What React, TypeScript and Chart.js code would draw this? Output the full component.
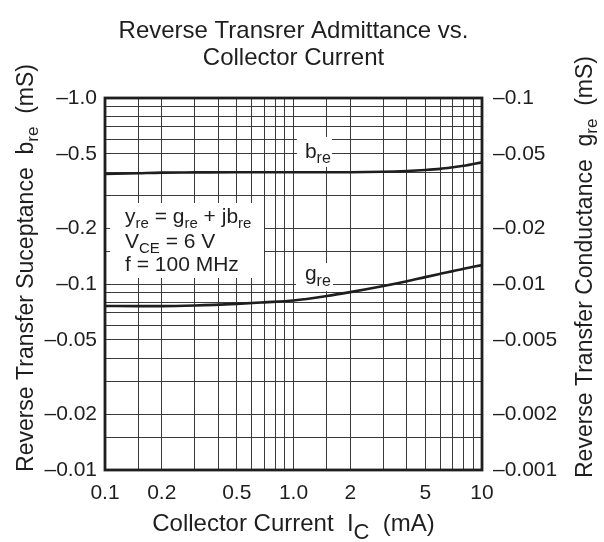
import React, { useEffect, useRef } from "react";
import { Chart, registerables } from "chart.js";

Chart.register(...registerables);

// ---------- data ----------
const current = [0.1, 0.15, 0.2, 0.3, 0.5, 0.7, 1.0, 1.5, 2.0, 3.0, 4.0, 5.0, 6.0, 7.0, 8.0, 10.0]; // mA
const breMag = [0.39, 0.394, 0.397, 0.398, 0.399, 0.399, 0.399, 0.399, 0.399, 0.401, 0.405, 0.41, 0.416, 0.424, 0.432, 0.451]; // |b_re| mS
const greMag = [0.00762, 0.0076, 0.0076, 0.00766, 0.00782, 0.00797, 0.00815, 0.00861, 0.00904, 0.00975, 0.01035, 0.01089, 0.01134, 0.01173, 0.01208, 0.01263]; // |g_re| mS

const gridSteps = [1, 1.5, 2, 3, 4, 5, 6, 7, 8, 9];
const xDecades = [0.1, 1];
const yDecades = [0.01, 0.1];
const y2Decades = [0.001, 0.01];

const xMajor = [0.1, 0.2, 0.5, 1, 2, 5, 10];
const xMajorLabels = ["0.1", "0.2", "0.5", "1.0", "2", "5", "10"];
const yMajor = [0.01, 0.02, 0.05, 0.1, 0.2, 0.5, 1];
const yMajorLabels = ["\u20130.01", "\u20130.02", "\u20130.05", "\u20130.1", "\u20130.2", "\u20130.5", "\u20131.0"];
const y2Major = [0.001, 0.002, 0.005, 0.01, 0.02, 0.05, 0.1];
const y2MajorLabels = ["\u20130.001", "\u20130.002", "\u20130.005", "\u20130.01", "\u20130.02", "\u20130.05", "\u20130.1"];

const titleLines = ["Reverse Transrer Admittance vs.", "Collector Current"];

const FONT = "'Liberation Sans', Arial, Helvetica, sans-serif";
const INK = "#1e1e1e";

type Part = [string, boolean];

function buildGrid(decades: number[]): number[] {
  const out: number[] = [];
  decades.forEach((d) => gridSteps.forEach((s) => out.push(+(d * s).toPrecision(6))));
  out.push(+(decades[decades.length - 1] * 10).toPrecision(6));
  return out;
}

function lookup(v: number, keys: number[], labels: string[]): string {
  for (let i = 0; i < keys.length; i++) {
    if (Math.abs(v - keys[i]) / keys[i] < 1e-6) return labels[i];
  }
  return "";
}

function drawRich(
  ctx: CanvasRenderingContext2D,
  parts: Part[],
  x: number,
  y: number,
  size: number,
  align: "left" | "center",
  subScale = 0.72,
  subOffset = 5
) {
  const main = `${size}px ${FONT}`;
  const sub = `${Math.round(size * subScale)}px ${FONT}`;
  let total = 0;
  const widths = parts.map(([t, s]) => {
    ctx.font = s ? sub : main;
    const w = ctx.measureText(t).width;
    total += w;
    return w;
  });
  let cx = align === "center" ? x - total / 2 : x;
  ctx.textAlign = "left";
  ctx.textBaseline = "alphabetic";
  parts.forEach(([t, s], i) => {
    ctx.font = s ? sub : main;
    ctx.fillText(t, cx, s ? y + subOffset : y);
    cx += widths[i];
  });
}

const decorPlugin = {
  id: "decor",
  beforeDraw(chart: any) {
    const ctx = chart.ctx;
    ctx.save();
    ctx.fillStyle = "#ffffff";
    ctx.fillRect(0, 0, chart.width, chart.height);
    ctx.restore();
  },
  beforeDatasetsDraw(chart: any) {
    const ctx: CanvasRenderingContext2D = chart.ctx;
    const a = chart.chartArea;
    const sx = chart.scales.x;
    const sy = chart.scales.y;
    const sy2 = chart.scales.y2;
    ctx.save();
    ctx.fillStyle = "#ffffff";
    // condition box
    ctx.fillRect(a.left + 5, a.top + 105, 154, 75);
    // curve labels
    const bx = sx.getPixelForValue(1.15);
    const bY = sy.getPixelForValue(0.476);
    const gY = sy2.getPixelForValue(0.0105);
    ctx.fillRect(bx - 8, bY - 21, 35, 30);
    ctx.fillRect(bx - 9, gY - 17, 37, 28);
    ctx.fillStyle = INK;
    drawRich(ctx, [["b", false], ["re", true]], bx, bY, 21, "left", 0.75, 5);
    drawRich(ctx, [["g", false], ["re", true]], bx, gY, 21, "left", 0.75, 6);
    const tx = a.left + 20;
    drawRich(ctx, [["y", false], ["re", true], [" = g", false], ["re", true], [" + jb", false], ["re", true]], tx, a.top + 125, 21, "left", 0.72, 5);
    drawRich(ctx, [["V", false], ["CE", true], [" = 6 V", false]], tx, a.top + 150, 21, "left", 0.72, 5);
    drawRich(ctx, [["f = 100 MHz", false]], tx, a.top + 173, 21, "left");
    ctx.restore();
  },
  afterDatasetsDraw(chart: any) {
    const ctx: CanvasRenderingContext2D = chart.ctx;
    const a = chart.chartArea;
    ctx.save();
    ctx.strokeStyle = INK;
    ctx.lineWidth = 2.8;
    ctx.strokeRect(a.left, a.top, a.right - a.left, a.bottom - a.top);
    ctx.fillStyle = INK;
    // title
    ctx.textAlign = "center";
    ctx.textBaseline = "alphabetic";
    ctx.font = `24px ${FONT}`;
    const cx = (a.left + a.right) / 2;
    ctx.fillText(titleLines[0], cx, 38);
    ctx.fillText(titleLines[1], cx, 65);
    // x title
    drawRich(ctx, [["Collector Current  I", false], ["C", true], ["  (mA)", false]], cx, 531, 24, "center", 0.9, 8);
    // left title
    ctx.save();
    ctx.translate(33, 268);
    ctx.rotate(-Math.PI / 2);
    drawRich(ctx, [["Reverse Transfer Suceptance  b", false], ["re", true], ["  (mS)", false]], 0, 0, 23, "center", 0.72, 5);
    ctx.restore();
    ctx.save();
    ctx.translate(592, 267);
    ctx.rotate(-Math.PI / 2);
    drawRich(ctx, [["Reverse Transfer Conductance  g", false], ["re", true], ["  (mS)", false]], 0, 0, 23, "center", 0.72, 5);
    ctx.restore();
    ctx.restore();
  },
};

export default function App() {
  const ref = useRef<HTMLCanvasElement | null>(null);

  useEffect(() => {
    if (!ref.current) return;
    const xGrid = buildGrid(xDecades);
    const yGrid = buildGrid(yDecades);
    const y2Grid = buildGrid(y2Decades);
    const tickFont = { family: FONT, size: 21 };

    const chart = new Chart(ref.current, {
      type: "line",
      data: {
        datasets: [
          {
            label: "b_re",
            data: current.map((c, i) => ({ x: c, y: breMag[i] })),
            yAxisID: "y",
            borderColor: INK,
            borderWidth: 2.6,
            pointRadius: 0,
            cubicInterpolationMode: "monotone",
            fill: false,
          },
          {
            label: "g_re",
            data: current.map((c, i) => ({ x: c, y: greMag[i] })),
            yAxisID: "y2",
            borderColor: INK,
            borderWidth: 2.6,
            pointRadius: 0,
            cubicInterpolationMode: "monotone",
            fill: false,
          },
        ],
      },
      options: {
        responsive: false,
        animation: false,
        layout: { padding: { top: 98, left: 0, right: 0, bottom: 0 } },
        plugins: { legend: { display: false }, tooltip: { enabled: false }, title: { display: false } },
        scales: {
          x: {
            type: "logarithmic",
            min: 0.1,
            max: 10,
            afterBuildTicks: (s: any) => {
              s.ticks = xGrid.map((v) => ({ value: v }));
            },
            afterFit: (s: any) => {
              s.height = 72;
            },
            grid: { color: "#3a3a3a", lineWidth: 1, drawTicks: false },
            border: { display: false },
            ticks: {
              autoSkip: false,
              maxRotation: 0,
              minRotation: 0,
              padding: 11,
              color: INK,
              font: tickFont,
              callback: (v: any) => lookup(Number(v), xMajor, xMajorLabels),
            },
          },
          y: {
            type: "logarithmic",
            position: "left",
            min: 0.01,
            max: 1,
            afterBuildTicks: (s: any) => {
              s.ticks = yGrid.map((v) => ({ value: v }));
            },
            afterFit: (s: any) => {
              s.width = 105;
            },
            grid: { color: "#3a3a3a", lineWidth: 1, drawTicks: false },
            border: { display: false },
            ticks: {
              autoSkip: false,
              padding: 8,
              color: INK,
              font: tickFont,
              callback: (v: any) => lookup(Number(v), yMajor, yMajorLabels),
            },
          },
          y2: {
            type: "logarithmic",
            position: "right",
            min: 0.001,
            max: 0.1,
            afterBuildTicks: (s: any) => {
              s.ticks = y2Grid.map((v) => ({ value: v }));
            },
            afterFit: (s: any) => {
              s.width = 122;
            },
            grid: { display: false, drawTicks: false },
            border: { display: false },
            ticks: {
              autoSkip: false,
              padding: 11,
              color: INK,
              font: tickFont,
              callback: (v: any) => lookup(Number(v), y2Major, y2MajorLabels),
            },
          },
        },
      } as any,
      plugins: [decorPlugin],
    });
    return () => chart.destroy();
  }, []);

  return (
    <div style={{ position: "fixed", left: 0, top: 0, width: 604, height: 542 }}>
      <canvas ref={ref} width={604} height={542} style={{ width: 604, height: 542 }} />
    </div>
  );
}
